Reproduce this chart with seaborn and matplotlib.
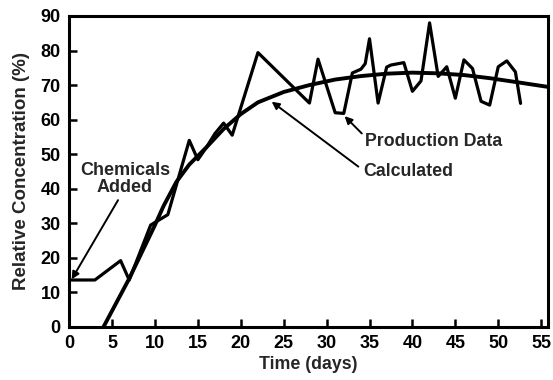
import matplotlib
matplotlib.use("Agg")
import matplotlib.pyplot as plt
import seaborn as sns
import pandas as pd

# Production data (days, relative concentration %)
prod_days = [0, 3, 6, 7, 9.5, 11.5, 14, 15, 16, 17, 18, 19, 22, 28, 29, 31, 32,
             33, 34, 34.5, 35, 36, 37, 37.5, 39, 40, 41, 42, 43, 44, 45, 46, 47,
             48, 49, 50, 51, 52, 52.6]
prod_conc = [13.6, 13.6, 19.2, 13.6, 29.5, 32.5, 54, 48.4, 52, 56, 59, 55.5, 79.4,
             64.8, 77.5, 62, 61.8, 73.5, 74.6, 76.2, 83.4, 64.8, 75.2, 75.8, 76.5,
             68.2, 71.2, 88, 72.5, 75.3, 66.2, 77.3, 74.8, 65.3, 64.2, 75.3, 77,
             73.8, 64.7]

# Calculated curve
calc_days = [4, 7, 10, 11, 12.5, 14, 16, 18, 20, 22, 25, 28, 31, 34, 37, 40, 43,
             46, 49, 52, 56]
calc_conc = [0, 14, 29.5, 35, 42, 47, 52, 57.3, 61.6, 65, 68, 70, 71.6, 72.6,
             73.3, 73.6, 73.4, 72.9, 72.0, 70.9, 69.4]

x_ticks = [0, 5, 10, 15, 20, 25, 30, 35, 40, 45, 50, 55]
y_ticks = [0, 10, 20, 30, 40, 50, 60, 70, 80, 90]

sns.set_style("ticks")
plt.rcParams["font.family"] = ["Liberation Sans", "DejaVu Sans"]
plt.rcParams["font.weight"] = "bold"

fig = plt.figure(figsize=(5.53, 3.80), dpi=100)
ax = fig.add_axes([0.125, 0.1395, 0.866, 0.8185])

prod_df = pd.DataFrame({"day": prod_days, "conc": prod_conc})
calc_df = pd.DataFrame({"day": calc_days, "conc": calc_conc})

sns.lineplot(data=prod_df, x="day", y="conc", ax=ax, color="black",
             linewidth=2.3, sort=False, estimator=None)
sns.lineplot(data=calc_df, x="day", y="conc", ax=ax, color="black",
             linewidth=2.8, sort=False, estimator=None)

ax.set_xlim(0, 55.8)
ax.set_ylim(0, 90)
ax.set_xticks(x_ticks)
ax.set_yticks(y_ticks)
ax.set_xticklabels([str(t) for t in x_ticks], fontsize=13, fontweight="bold")
ax.set_yticklabels([str(t) for t in y_ticks], fontsize=13, fontweight="bold")
ax.tick_params(axis="both", direction="in", length=6, width=1.8, pad=6,
               colors="black")

for s in ax.spines.values():
    s.set_visible(True)
    s.set_linewidth(2.2)
    s.set_color("black")

ax.set_xlabel("Time (days)", fontsize=12.8, fontweight="bold", labelpad=3)
ax.set_ylabel("Relative Concentration (%)", fontsize=13.5, fontweight="bold",
              labelpad=8)

arrow = dict(arrowstyle="-|>", color="black", lw=1.4, mutation_scale=11,
             shrinkA=0, shrinkB=0)

ax.text(6.5, 42.8, "Chemicals\nAdded", ha="center", va="center", fontsize=13,
        fontweight="bold", linespacing=1.0)
ax.annotate("", xy=(0.3, 13.8), xytext=(5.7, 36.7), arrowprops=arrow)

ax.text(34.5, 53.6, "Production Data", ha="left", va="center", fontsize=12.8,
        fontweight="bold")
ax.annotate("", xy=(32.1, 61.0), xytext=(34.1, 56.0), arrowprops=arrow)

ax.text(34.3, 44.9, "Calculated", ha="left", va="center", fontsize=12.8,
        fontweight="bold")
ax.annotate("", xy=(23.6, 65.2), xytext=(33.7, 46.4), arrowprops=arrow)

fig.savefig("out.png", dpi=100)
